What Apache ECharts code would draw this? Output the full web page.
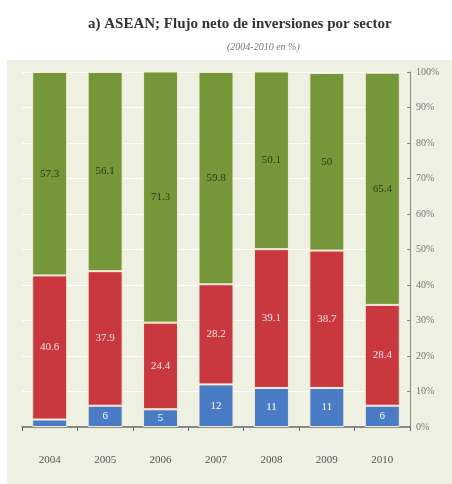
<!DOCTYPE html>
<html><head><meta charset="utf-8">
<script src="https://cdn.jsdelivr.net/npm/echarts@6/dist/echarts.min.js"></script>
<style>html,body{margin:0;padding:0;background:#fff}#c{width:452px;height:484px}</style>
</head><body><div id="c"></div>
<script>
const years = ['2004','2005','2006','2007','2008','2009','2010'];
const blueVals = [2.1, 6, 5, 12, 11, 11, 6];
const redVals = [40.6, 37.9, 24.4, 28.2, 39.1, 38.7, 28.4];
const greenVals = [57.3, 56.1, 71.3, 59.8, 50.1, 50, 65.4];
const yTicks = ['0%','10%','20%','30%','40%','50%','60%','70%','80%','90%','100%'];

const serif = '"Liberation Serif", "DejaVu Serif", serif';
const chart = echarts.init(document.getElementById('c'));
const lbl = (color) => ({
  show: true, position: 'inside', color: color, fontFamily: serif, fontSize: 11,
  formatter: p => (p.value < 3 ? '' : String(p.value))
});
const seg = (name, data, color, labelColor) => ({
  name, type: 'bar', stack: 's', data, barWidth: 35,
  itemStyle: { color, borderColor: '#f6ecd8', borderWidth: 1 },
  label: lbl(labelColor)
});
chart.setOption({
  animation: false,
  backgroundColor: '#ffffff',
  graphic: [{ type: 'rect', z: -10, shape: { x: 7, y: 60, width: 445, height: 424 }, style: { fill: '#eef1e2' } }],
  title: [
    { text: 'a) ASEAN; Flujo neto de inversiones por sector', left: 83, top: 12,
      textStyle: { fontFamily: serif, fontSize: 15, fontWeight: 'bold', color: '#333' } },
    { text: '(2004-2010 en %)', left: 222, top: 37,
      textStyle: { fontFamily: serif, fontSize: 10, fontStyle: 'italic', fontWeight: 'normal', color: '#777' } }
  ],
  grid: { left: 22, right: 42, top: 72, bottom: 57 },
  xAxis: {
    type: 'category', data: years,
    axisLine: { lineStyle: { color: '#666', width: 1.5 } },
    axisTick: { show: true, alignWithLabel: false, length: 4, lineStyle: { color: '#666' } },
    axisLabel: { fontFamily: serif, fontSize: 11, color: '#555', margin: 28 }
  },
  yAxis: {
    type: 'value', position: 'right', min: 0, max: 100, interval: 10,
    axisLine: { show: true, lineStyle: { color: '#888' } },
    axisTick: { show: true, inside: true, length: 3, lineStyle: { color: '#888' } },
    splitLine: { show: true, lineStyle: { color: '#ffffff', width: 1 } },
    axisLabel: { fontFamily: serif, fontSize: 10, color: '#777', margin: 6,
      formatter: v => yTicks[Math.round(v / 10)] }
  },
  series: [
    seg('blue', blueVals, '#4a7cc6', '#ffffff'),
    seg('red', redVals, '#c9383e', '#f6e6e6'),
    seg('green', greenVals, '#76963a', '#2f3a14')
  ]
});
</script></body></html>
